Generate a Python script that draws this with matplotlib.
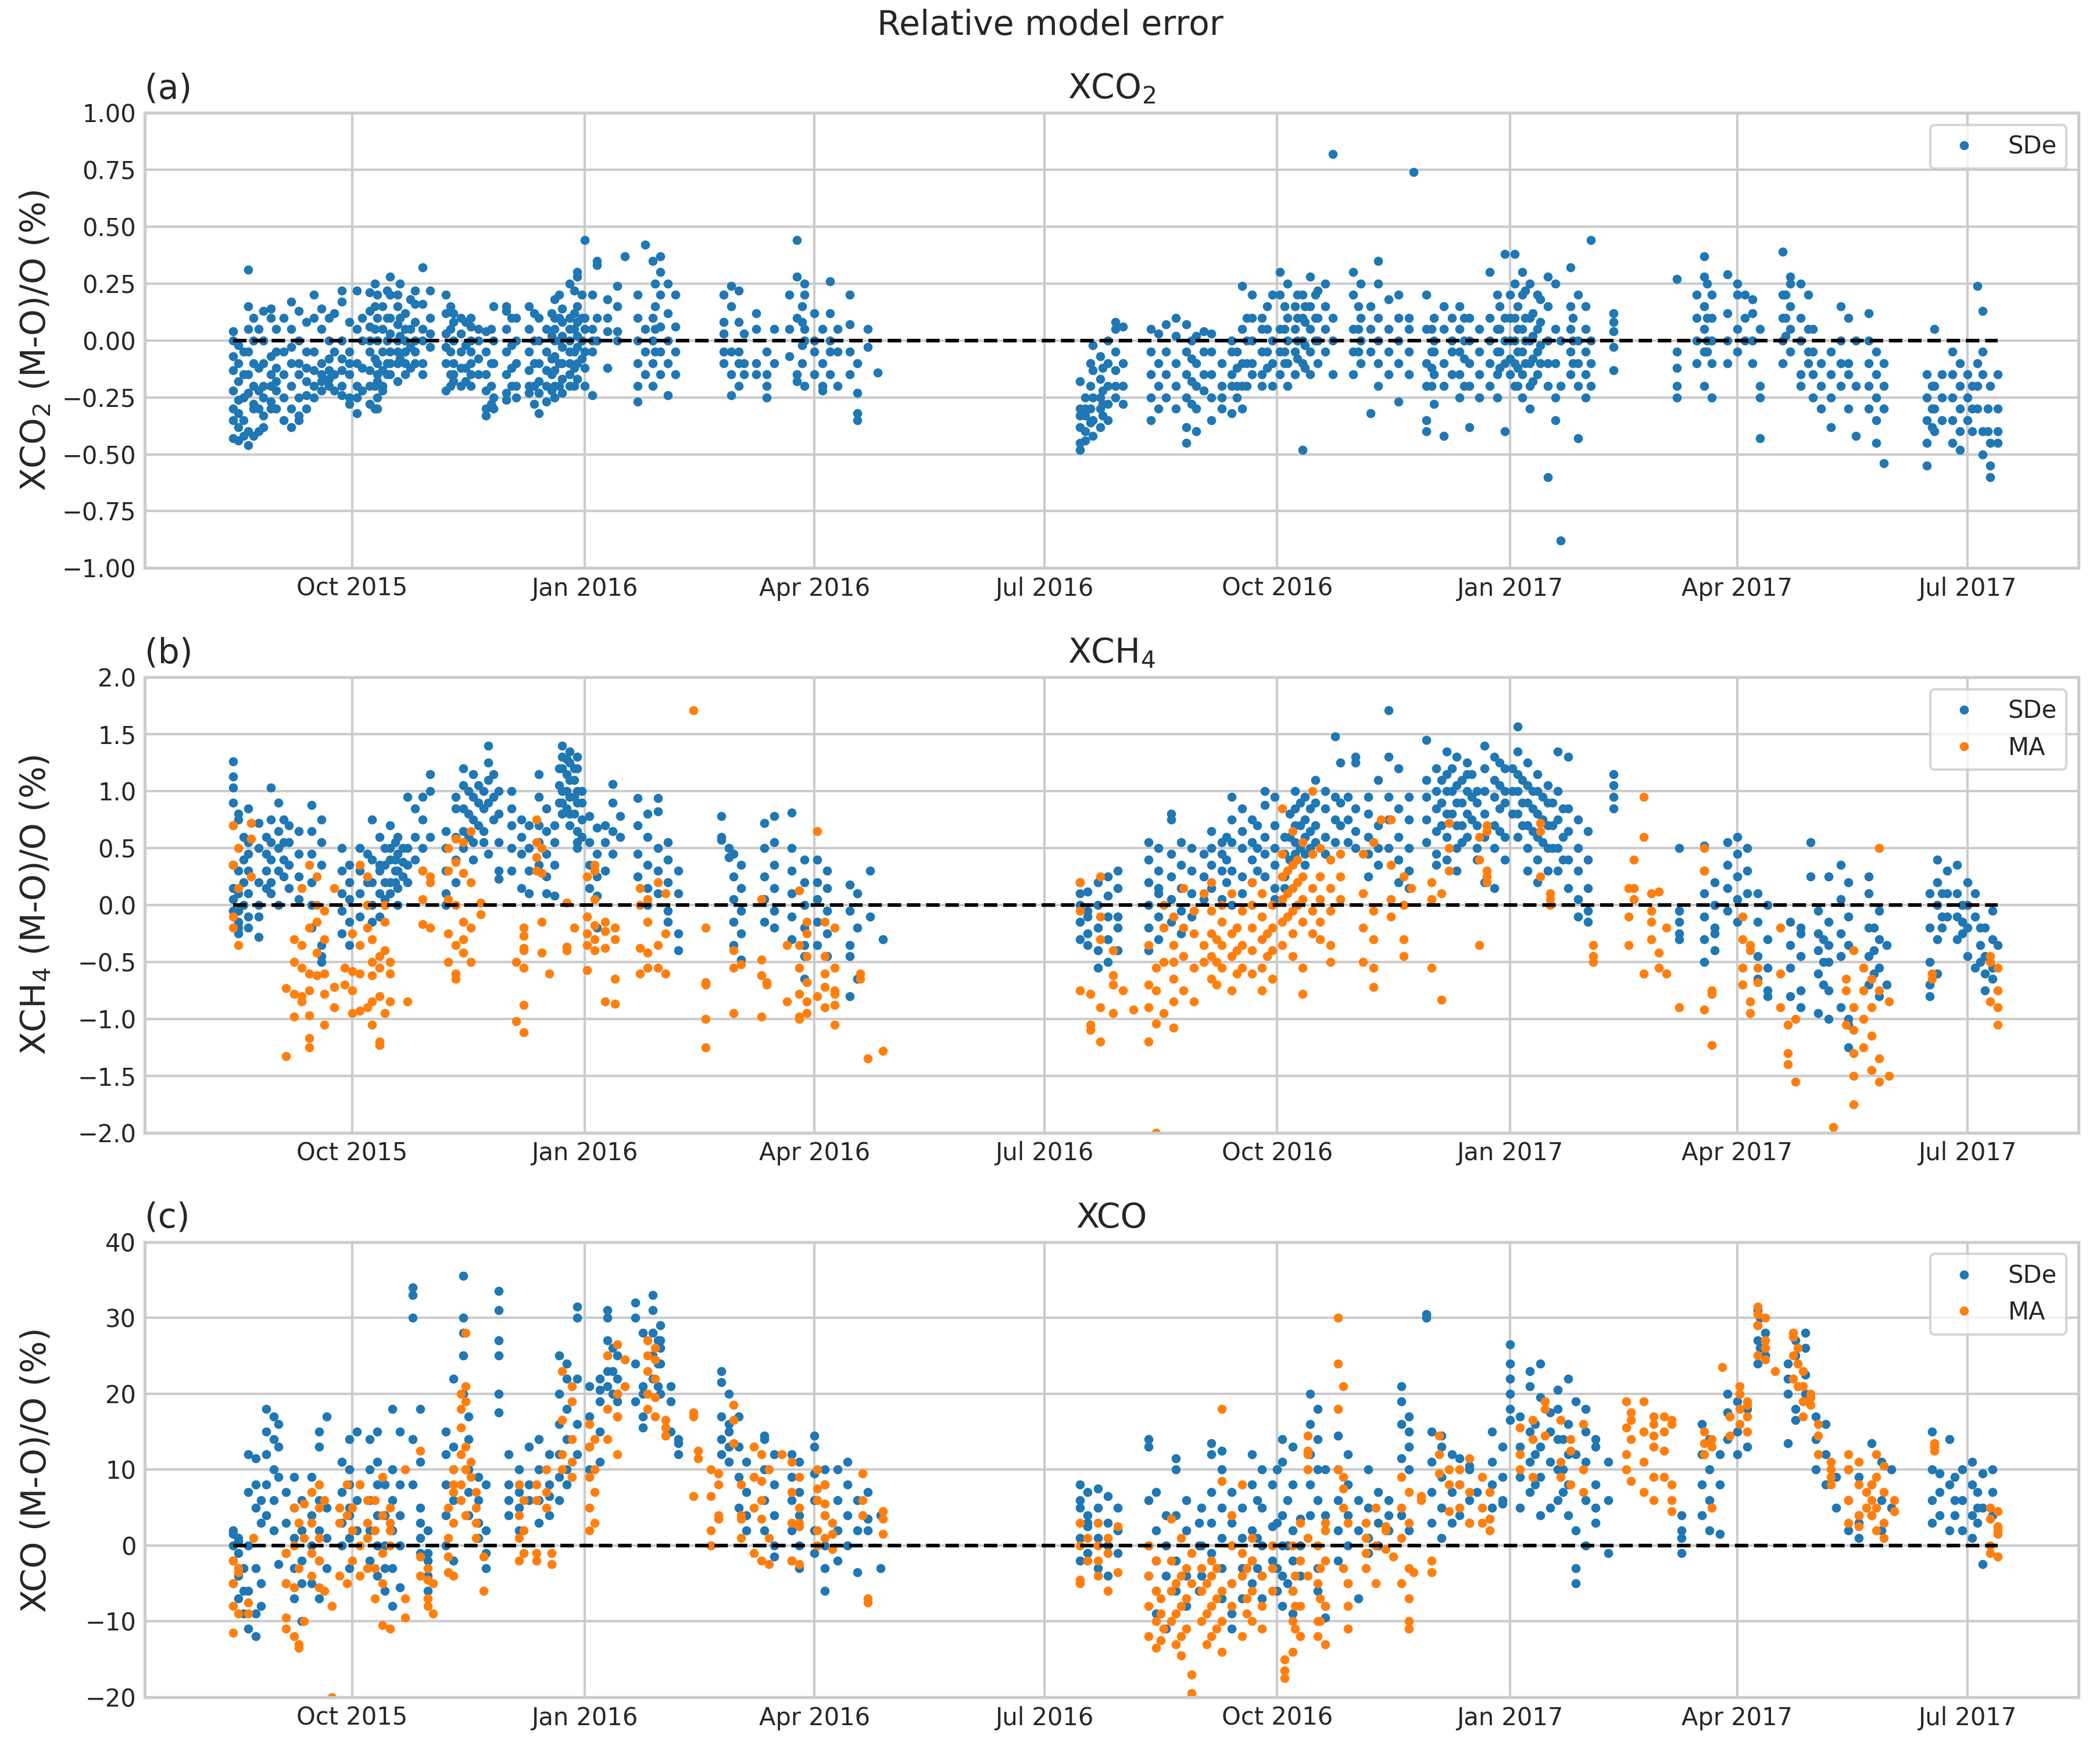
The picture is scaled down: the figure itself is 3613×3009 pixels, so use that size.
import numpy as np
import matplotlib
matplotlib.use("Agg")
import matplotlib.pyplot as plt
import matplotlib.dates as mdates

# estilo "whitegrid" feito à mão
plt.rcParams.update({
    "font.family": "DejaVu Sans",
    "axes.facecolor": "white",
    "axes.edgecolor": "#cccccc",
    "axes.linewidth": 1.25,
    "axes.grid": True,
    "grid.color": "#cccccc",
    "grid.linewidth": 1.0,
    "axes.axisbelow": True,
    "text.color": "#262626",
    "axes.labelcolor": "#262626",
    "xtick.color": "#262626",
    "ytick.color": "#262626",
    "xtick.major.size": 0,
    "ytick.major.size": 0,
    "legend.edgecolor": "#cccccc",
})

# --- valores: (dia, [erros relativos em %]) ---
xco2_sde = [
    ("2015-08-15", [0.04, 0.0, -0.07, -0.13, -0.22, -0.3, -0.35, -0.43]),
    ("2015-08-17", [-0.02, -0.1, -0.18, -0.26, -0.32, -0.44, -0.38]),
    ("2015-08-19", [-0.05, -0.15, -0.25, -0.35, -0.42]),
    ("2015-08-21", [0.31, 0.15, 0.05, -0.05, -0.15, -0.23, -0.4, -0.46]),
    ("2015-08-23", [0.1, 0.0, -0.1, -0.2, -0.3, -0.42, -0.28]),
    ("2015-08-25", [0.05, -0.12, -0.22, -0.3, -0.4]),
    ("2015-08-27", [0.13, 0.0, -0.1, -0.2, -0.25, -0.33, -0.38]),
    ("2015-08-30", [0.14, 0.1, -0.07, -0.15, -0.2, -0.3, -0.27]),
    ("2015-09-01", [0.05, -0.05, -0.12, -0.18, -0.22, -0.3]),
    ("2015-09-04", [0.1, -0.05, -0.15, -0.25, -0.35]),
    ("2015-09-07", [0.17, 0.05, -0.03, -0.1, -0.2, -0.3, -0.38]),
    ("2015-09-10", [0.13, 0.0, -0.1, -0.15, -0.25, -0.35, -0.33]),
    ("2015-09-13", [0.08, -0.05, -0.12, -0.18, -0.24, -0.3]),
    ("2015-09-16", [0.2, 0.1, -0.05, -0.13, -0.2, -0.25]),
    ("2015-09-19", [0.14, 0.05, -0.1, -0.15, -0.18, -0.22]),
    ("2015-09-22", [0.1, 0.0, -0.08, -0.13, -0.17, -0.2]),
    ("2015-09-24", [0.12, -0.05, -0.15, -0.22]),
    ("2015-09-27", [0.22, 0.17, 0.0, -0.08, -0.13, -0.2, -0.24]),
    ("2015-09-30", [0.08, -0.05, -0.1, -0.15, -0.25, -0.28]),
    ("2015-10-03", [0.22, 0.05, -0.1, -0.2, -0.32, -0.25]),
    ("2015-10-05", [0.1, 0.0, -0.12, -0.22]),
    ("2015-10-08", [0.21, 0.13, 0.06, 0.0, -0.05, -0.13, -0.2, -0.28]),
    ("2015-10-10", [0.25, 0.15, 0.05, -0.08, -0.2, -0.3]),
    ("2015-10-11", [0.2, 0.1, 0.0, -0.1, -0.15, -0.18, -0.25, -0.3]),
    ("2015-10-13", [0.15, 0.05, -0.05, -0.13, -0.2, -0.22]),
    ("2015-10-15", [0.22, 0.1, 0.0, -0.1, -0.15]),
    ("2015-10-16", [0.28, 0.2, 0.1, 0.03, -0.05, -0.1, -0.15]),
    ("2015-10-19", [0.2, 0.15, 0.07, 0.0, -0.05, -0.1, -0.18]),
    ("2015-10-20", [0.25, 0.1, 0.02, -0.08]),
    ("2015-10-22", [0.12, 0.05, 0.0, -0.05, -0.1, -0.15]),
    ("2015-10-24", [0.18, 0.05, -0.03, -0.12]),
    ("2015-10-26", [0.22, 0.16, 0.08, 0.0, -0.05, -0.1]),
    ("2015-10-29", [0.32, 0.16, 0.05, 0.0, -0.1, -0.15]),
    ("2015-11-01", [0.22, 0.1, 0.03, -0.03]),
    ("2015-11-07", [0.2, 0.12, 0.03, -0.03, -0.1, -0.22]),
    ("2015-11-09", [0.15, 0.05, -0.05, -0.15, -0.2]),
    ("2015-11-10", [0.12, 0.08, 0.0, -0.1, -0.15, -0.18]),
    ("2015-11-13", [0.1, 0.03, -0.05, -0.12, -0.2]),
    ("2015-11-15", [0.08, -0.02, -0.12, -0.18]),
    ("2015-11-17", [0.1, 0.06, 0.0, -0.05, -0.1, -0.15, -0.2]),
    ("2015-11-20", [0.05, 0.0, -0.08, -0.15]),
    ("2015-11-23", [0.04, -0.05, -0.15, -0.22, -0.3, -0.33]),
    ("2015-11-25", [0.05, -0.1, -0.2, -0.28]),
    ("2015-11-26", [0.15, 0.0, -0.1, -0.25, -0.3]),
    ("2015-12-01", [0.15, 0.13, 0.05, -0.05, -0.15, -0.23, -0.26]),
    ("2015-12-03", [0.1, -0.02, -0.12, -0.2]),
    ("2015-12-05", [0.1, 0.0, -0.1, -0.2, -0.25]),
    ("2015-12-10", [0.15, 0.05, -0.05, -0.13, -0.2, -0.23]),
    ("2015-12-12", [0.12, 0.0, -0.1, -0.2, -0.28]),
    ("2015-12-14", [0.1, 0.0, -0.1, -0.18, -0.23, -0.32]),
    ("2015-12-17", [0.05, -0.05, -0.13, -0.2, -0.27]),
    ("2015-12-19", [0.12, 0.02, -0.08, -0.15, -0.22]),
    ("2015-12-20", [0.18, 0.1, 0.05, 0.0, -0.07, -0.13, -0.2, -0.25]),
    ("2015-12-22", [0.2, 0.1, 0.0, -0.1, -0.2]),
    ("2015-12-23", [0.14, 0.08, 0.02, -0.03, -0.1, -0.17, -0.23]),
    ("2015-12-26", [0.25, 0.1, 0.05, 0.0, -0.05, -0.1, -0.15, -0.2]),
    ("2015-12-28", [0.22, 0.12, 0.05, -0.05, -0.12, -0.2]),
    ("2015-12-29", [0.3, 0.28, 0.15, 0.08, 0.02, -0.03, -0.1, -0.17]),
    ("2015-12-31", [0.2, 0.1, 0.0, -0.08]),
    ("2016-01-01", [0.44, 0.1, 0.05, -0.05, -0.12, -0.2]),
    ("2016-01-04", [0.2, 0.05, 0.0, -0.05, -0.24]),
    ("2016-01-06", [0.33, 0.35, 0.1, 0.0]),
    ("2016-01-10", [0.18, 0.1, 0.04, -0.12]),
    ("2016-01-14", [0.24, 0.15, 0.04, 0.0]),
    ("2016-01-17", [0.37]),
    ("2016-01-22", [0.2, 0.1, 0.0, -0.1, -0.2, -0.27]),
    ("2016-01-25", [0.42, 0.05, -0.05, -0.15]),
    ("2016-01-28", [0.35, 0.1, 0.0, -0.1, -0.2]),
    ("2016-01-29", [0.25, 0.15, 0.05, -0.05]),
    ("2016-01-31", [0.37, 0.3, 0.2, 0.06, -0.05, -0.15]),
    ("2016-02-03", [0.25, 0.12, 0.0, -0.1, -0.24]),
    ("2016-02-06", [0.2, 0.06, -0.05, -0.15]),
    ("2016-02-25", [0.2, 0.08, 0.03, -0.05, -0.1]),
    ("2016-02-28", [0.24, 0.15, -0.05, -0.15, -0.24]),
    ("2016-03-02", [0.22, 0.08, -0.05, -0.1, -0.2]),
    ("2016-03-04", [0.03, -0.1, -0.15]),
    ("2016-03-09", [0.12, 0.05, -0.1, -0.15]),
    ("2016-03-13", [-0.05, -0.15, -0.2, -0.25]),
    ("2016-03-16", [0.05, -0.1]),
    ("2016-03-22", [0.2, 0.05, -0.07]),
    ("2016-03-25", [0.44, 0.28, 0.1, -0.15, -0.18]),
    ("2016-03-27", [0.15, 0.08, -0.02, -0.1]),
    ("2016-03-28", [0.25, 0.2, 0.05, 0.0, -0.2]),
    ("2016-04-01", [0.12, 0.0, -0.05, -0.15]),
    ("2016-04-04", [0.05, -0.1, -0.2, -0.22]),
    ("2016-04-07", [0.26, 0.12, 0.0, -0.05, -0.15]),
    ("2016-04-10", [0.05, -0.05, -0.2]),
    ("2016-04-15", [0.2, 0.07, -0.05, -0.15]),
    ("2016-04-18", [-0.1, -0.23, -0.32, -0.35]),
    ("2016-04-22", [0.05, -0.03]),
    ("2016-04-26", [-0.14]),
    ("2016-07-15", [-0.18, -0.3, -0.38, -0.45, -0.48, -0.33]),
    ("2016-07-17", [-0.25, -0.33, -0.4, -0.44, -0.3]),
    ("2016-07-19", [-0.1, -0.2, -0.3, -0.36]),
    ("2016-07-20", [-0.02, -0.13, -0.25, -0.35, -0.42]),
    ("2016-07-23", [-0.07, -0.17, -0.3, -0.38, -0.25]),
    ("2016-07-24", [-0.12, -0.22, -0.28, -0.33]),
    ("2016-07-26", [0.0, -0.1, -0.2, -0.28, -0.35]),
    ("2016-07-29", [0.08, 0.05, -0.05, -0.13, -0.2, -0.25]),
    ("2016-08-01", [0.06, -0.1, -0.2, -0.28]),
    ("2016-08-12", [0.05, -0.05, -0.15, -0.25, -0.35]),
    ("2016-08-15", [0.03, -0.1, -0.2, -0.3]),
    ("2016-08-18", [0.07, -0.05, -0.15, -0.25]),
    ("2016-08-22", [0.1, 0.02, -0.1, -0.2, -0.3]),
    ("2016-08-26", [0.07, -0.05, -0.15, -0.25, -0.38, -0.45]),
    ("2016-08-28", [0.0, -0.08, -0.18, -0.28]),
    ("2016-08-30", [0.02, -0.1, -0.2, -0.3, -0.4]),
    ("2016-09-02", [0.04, -0.05, -0.15, -0.22]),
    ("2016-09-05", [0.03, -0.05, -0.15, -0.25, -0.35]),
    ("2016-09-09", [-0.1, -0.2, -0.25, -0.3]),
    ("2016-09-13", [0.0, -0.05, -0.15, -0.2, -0.32]),
    ("2016-09-15", [-0.05, -0.12, -0.2, -0.25]),
    ("2016-09-17", [0.24, 0.05, -0.1, -0.2, -0.3]),
    ("2016-09-19", [0.1, 0.0, -0.1, -0.2]),
    ("2016-09-21", [0.2, 0.1, 0.0, -0.1, -0.15]),
    ("2016-09-25", [0.1, 0.05, -0.05, -0.15, -0.2]),
    ("2016-09-27", [0.15, 0.05, -0.05, -0.12]),
    ("2016-09-29", [0.2, 0.0, -0.1, -0.2]),
    ("2016-10-02", [0.3, 0.2, 0.05, -0.05, -0.15]),
    ("2016-10-04", [0.15, 0.05, -0.05, -0.1]),
    ("2016-10-05", [0.25, 0.1, 0.0, -0.1, -0.2]),
    ("2016-10-08", [0.15, 0.05, -0.05, -0.15]),
    ("2016-10-09", [0.2, 0.1, 0.0, -0.08]),
    ("2016-10-11", [0.2, 0.1, 0.0, -0.1, -0.48]),
    ("2016-10-12", [0.15, 0.08, -0.02, -0.12]),
    ("2016-10-14", [0.28, 0.15, 0.05, -0.05, -0.15]),
    ("2016-10-16", [0.2, 0.1, 0.0]),
    ("2016-10-17", [0.22, 0.1, 0.0, -0.1]),
    ("2016-10-20", [0.25, 0.15, 0.05, -0.05]),
    ("2016-10-23", [0.82, 0.1, 0.0, -0.15]),
    ("2016-10-31", [0.3, 0.2, 0.05, -0.05, -0.15]),
    ("2016-11-02", [0.15, 0.05, -0.05]),
    ("2016-11-03", [0.25, 0.1, 0.0, -0.1]),
    ("2016-11-07", [0.15, 0.05, -0.05, -0.32]),
    ("2016-11-10", [0.35, 0.25, 0.1, 0.0, -0.1, -0.2]),
    ("2016-11-14", [0.18, 0.05, -0.05, -0.15]),
    ("2016-11-18", [0.2, 0.1, 0.0, -0.1, -0.27]),
    ("2016-11-22", [0.1, 0.05, -0.05, -0.15]),
    ("2016-11-24", [0.74]),
    ("2016-11-29", [0.2, 0.05, -0.1, -0.2, -0.35, -0.4]),
    ("2016-12-01", [0.05, -0.05, -0.12, -0.2]),
    ("2016-12-02", [0.1, 0.0, -0.05, -0.15, -0.28]),
    ("2016-12-06", [0.15, 0.05, -0.1, -0.2, -0.42]),
    ("2016-12-09", [0.1, 0.0, -0.05, -0.15]),
    ("2016-12-12", [0.15, 0.05, -0.05, -0.15, -0.25]),
    ("2016-12-14", [0.1, 0.0, -0.08, -0.2]),
    ("2016-12-16", [0.1, 0.0, -0.1, -0.2, -0.38]),
    ("2016-12-20", [0.05, -0.05, -0.15, -0.25]),
    ("2016-12-24", [0.3, 0.1, 0.0, -0.1, -0.2]),
    ("2016-12-27", [0.2, 0.05, -0.05, -0.15, -0.25]),
    ("2016-12-28", [0.15, 0.05, -0.05, -0.12]),
    ("2016-12-30", [0.38, 0.1, 0.0, -0.1, -0.4]),
    ("2017-01-01", [0.2, 0.1, 0.0, -0.08, -0.15]),
    ("2017-01-03", [0.38, 0.25, 0.1, 0.0, -0.1, -0.2]),
    ("2017-01-04", [0.15, 0.05, -0.05, -0.12, -0.2]),
    ("2017-01-06", [0.3, 0.2, 0.05, -0.05, -0.15, -0.25]),
    ("2017-01-07", [0.22, 0.1, 0.0, -0.1]),
    ("2017-01-09", [0.25, 0.1, 0.0, -0.1, -0.2, -0.3]),
    ("2017-01-10", [0.12, 0.02, -0.08, -0.18]),
    ("2017-01-12", [0.2, 0.05, -0.05, -0.15]),
    ("2017-01-13", [0.18, 0.08, -0.02, -0.1]),
    ("2017-01-16", [0.28, 0.15, 0.0, -0.1, -0.2, -0.6]),
    ("2017-01-19", [0.25, 0.05, -0.1, -0.25, -0.35]),
    ("2017-01-21", [-0.88, 0.0, -0.2]),
    ("2017-01-25", [0.32, 0.15, 0.05, -0.05, -0.15]),
    ("2017-01-26", [0.1, 0.0, -0.1]),
    ("2017-01-28", [0.2, 0.0, -0.1, -0.2, -0.43]),
    ("2017-01-31", [0.15, 0.05, -0.05, -0.15, -0.25]),
    ("2017-02-02", [0.44, 0.0, -0.1, -0.2]),
    ("2017-02-11", [0.12, 0.08, 0.04, -0.03, -0.13]),
    ("2017-03-08", [0.27, -0.05, -0.12, -0.2, -0.25]),
    ("2017-03-16", [0.2, 0.1, 0.0, -0.1]),
    ("2017-03-19", [0.37, 0.28, 0.15, 0.05, -0.05, -0.2]),
    ("2017-03-20", [0.25, 0.1, 0.0, -0.05]),
    ("2017-03-22", [0.2, 0.1, 0.0, -0.1, -0.25]),
    ("2017-03-28", [0.29, 0.12, 0.0, -0.1]),
    ("2017-04-01", [0.25, 0.2, 0.05, -0.05]),
    ("2017-04-04", [0.2, 0.1, 0.0]),
    ("2017-04-07", [0.18, 0.12, 0.0, -0.1]),
    ("2017-04-10", [0.05, -0.2, -0.25, -0.43]),
    ("2017-04-19", [0.39, 0.2, 0.1, 0.0, -0.1]),
    ("2017-04-20", [0.2, 0.1, 0.02]),
    ("2017-04-22", [0.28, 0.25, 0.15, 0.05, -0.05]),
    ("2017-04-26", [0.25, 0.1, 0.0, -0.15, -0.2]),
    ("2017-04-29", [0.2, 0.05, -0.05, -0.1]),
    ("2017-05-01", [0.05, -0.05, -0.15, -0.25]),
    ("2017-05-04", [-0.1, -0.2, -0.3]),
    ("2017-05-08", [-0.05, -0.15, -0.25, -0.38]),
    ("2017-05-12", [0.15, 0.0, -0.1, -0.2]),
    ("2017-05-15", [0.1, -0.1, -0.15, -0.3]),
    ("2017-05-18", [0.0, -0.2, -0.42]),
    ("2017-05-23", [0.12, 0.0, -0.1, -0.2, -0.3]),
    ("2017-05-26", [-0.05, -0.15, -0.25, -0.35, -0.45]),
    ("2017-05-29", [-0.1, -0.2, -0.3, -0.54]),
    ("2017-06-15", [-0.15, -0.25, -0.35, -0.45, -0.55]),
    ("2017-06-17", [-0.2, -0.3, -0.38]),
    ("2017-06-18", [0.05, -0.2, -0.3, -0.4]),
    ("2017-06-21", [-0.15, -0.25, -0.35]),
    ("2017-06-25", [-0.05, -0.15, -0.25, -0.35, -0.45]),
    ("2017-06-28", [-0.1, -0.2, -0.3, -0.4, -0.48]),
    ("2017-07-01", [-0.15, -0.25, -0.35]),
    ("2017-07-03", [-0.2, -0.3, -0.4]),
    ("2017-07-05", [0.24, -0.1, -0.2, -0.3]),
    ("2017-07-07", [0.13, -0.05, -0.15, -0.4, -0.5]),
    ("2017-07-09", [-0.3, -0.4]),
    ("2017-07-10", [-0.2, -0.45, -0.55, -0.6]),
    ("2017-07-13", [-0.15, -0.3, -0.4, -0.45]),
]

xch4_sde = [
    ("2015-08-15", [1.26, 1.13, 1.03, 0.9, 0.35, 0.15, 0.05, -0.05]),
    ("2015-08-17", [0.8, 0.75, 0.3, 0.1, -0.05, -0.15, -0.2, -0.25]),
    ("2015-08-19", [0.6, 0.4, 0.2, 0.0]),
    ("2015-08-21", [0.85, 0.55, 0.45, 0.3, 0.1, -0.1, -0.2]),
    ("2015-08-25", [0.72, 0.5, 0.2, 0.0, -0.1, -0.28]),
    ("2015-08-28", [0.6, 0.45, 0.3, 0.15]),
    ("2015-08-30", [1.03, 0.75, 0.55, 0.4, 0.2, 0.1]),
    ("2015-09-02", [0.9, 0.65, 0.5, 0.3, 0.0]),
    ("2015-09-04", [0.75, 0.55, 0.4, 0.25]),
    ("2015-09-06", [0.7, 0.55, 0.35, 0.15]),
    ("2015-09-10", [0.65, 0.45, 0.25, 0.05]),
    ("2015-09-15", [0.88, 0.65, 0.45, 0.2, 0.0, -0.2]),
    ("2015-09-19", [0.75, 0.55, 0.35, -0.35, -0.5, -0.45]),
    ("2015-09-27", [0.5, 0.3, 0.1, -0.05, -0.25]),
    ("2015-09-30", [0.35, 0.2, 0.05, -0.15, -0.35]),
    ("2015-10-04", [0.5, 0.3, 0.1, -0.1]),
    ("2015-10-07", [0.45, 0.2, 0.0]),
    ("2015-10-09", [0.75, 0.4, 0.2, 0.0, -0.15]),
    ("2015-10-12", [0.6, 0.35, 0.3, 0.1, -0.1]),
    ("2015-10-14", [0.5, 0.35, 0.2, 0.05]),
    ("2015-10-16", [0.7, 0.5, 0.4, 0.2, 0.1]),
    ("2015-10-18", [0.55, 0.4, 0.3, 0.2]),
    ("2015-10-19", [0.6, 0.45, 0.3, 0.15, 0.0]),
    ("2015-10-21", [0.5, 0.38, 0.25]),
    ("2015-10-23", [0.95, 0.5, 0.35, 0.2]),
    ("2015-10-26", [0.85, 0.6, 0.4]),
    ("2015-10-29", [0.95, 0.75, 0.5, 0.3]),
    ("2015-11-01", [1.15, 1.0, 0.6]),
    ("2015-11-07", [0.65, 0.5, 0.3, 0.1, 0.0]),
    ("2015-11-11", [0.95, 0.85, 0.6, 0.4, 0.2]),
    ("2015-11-14", [1.2, 1.05, 0.85, 0.65, 0.5]),
    ("2015-11-16", [1.0, 0.8, 0.6]),
    ("2015-11-18", [1.15, 0.95, 0.75, 0.55, 0.4]),
    ("2015-11-20", [1.05, 0.9, 0.7]),
    ("2015-11-22", [1.0, 0.85, 0.65, 0.55]),
    ("2015-11-24", [1.4, 1.25, 1.1, 0.9, 0.45]),
    ("2015-11-26", [1.15, 0.95, 0.75]),
    ("2015-11-28", [1.0, 0.8, 0.55, 0.3, 0.23]),
    ("2015-12-03", [1.0, 0.85, 0.7, 0.5, 0.3]),
    ("2015-12-07", [0.75, 0.6, 0.45, 0.15]),
    ("2015-12-10", [0.7, 0.5, 0.3, 0.1]),
    ("2015-12-14", [1.15, 0.95, 0.7, 0.55, 0.35]),
    ("2015-12-17", [0.85, 0.65, 0.45, 0.25, 0.1]),
    ("2015-12-20", [0.7, 0.55, 0.35, 0.08]),
    ("2015-12-22", [1.2, 1.05, 0.9]),
    ("2015-12-23", [1.4, 1.3, 1.2, 1.0, 0.9, 0.8]),
    ("2015-12-25", [1.28, 1.15, 1.0, 0.85]),
    ("2015-12-26", [1.35, 1.25, 1.1, 0.95, 0.8, 0.7]),
    ("2015-12-28", [1.2, 1.1, 0.95, 0.8]),
    ("2015-12-29", [1.3, 1.2, 1.0, 0.9, 0.65, 0.55, 0.5]),
    ("2015-12-31", [1.0, 0.9, 0.75, 0.6]),
    ("2016-01-03", [0.78, 0.55, 0.35, 0.15]),
    ("2016-01-06", [0.68, 0.45, 0.25, 0.08, -0.2]),
    ("2016-01-09", [0.7, 0.55, 0.3]),
    ("2016-01-12", [1.06, 0.9, 0.65, 0.45]),
    ("2016-01-15", [0.78, 0.6]),
    ("2016-01-22", [0.94, 0.7, 0.45, 0.25]),
    ("2016-01-26", [0.8, 0.6, 0.35, 0.15, 0.0]),
    ("2016-01-30", [0.94, 0.82, 0.5, 0.3, 0.1]),
    ("2016-02-03", [0.55, 0.4, 0.2, -0.05, -0.15]),
    ("2016-02-07", [0.3, 0.1, -0.25, -0.4]),
    ("2016-02-24", [0.78, 0.6, 0.57]),
    ("2016-02-27", [0.42, 0.5]),
    ("2016-02-29", [0.45, 0.25, 0.05, -0.15, -0.35]),
    ("2016-03-03", [0.35, 0.15, -0.05, -0.25, -0.48]),
    ("2016-03-12", [0.72, 0.5, 0.25, 0.05, -0.15]),
    ("2016-03-16", [0.78, 0.55, 0.35, 0.15, -0.05, -0.2]),
    ("2016-03-23", [0.81, 0.5, 0.3, 0.1, -0.1, -0.3]),
    ("2016-03-28", [0.4, 0.2, 0.0, -0.2, -0.35, -0.45, -0.65]),
    ("2016-04-02", [0.4, 0.2, 0.05, -0.15, -0.35]),
    ("2016-04-06", [0.3, 0.15, -0.05, -0.25, -0.45]),
    ("2016-04-15", [0.18, -0.05, -0.35, -0.45, -0.8]),
    ("2016-04-18", [0.1, -0.2, -0.65]),
    ("2016-04-23", [0.3, -0.1]),
    ("2016-04-28", [-0.3]),
    ("2016-07-15", [0.1, 0.0, -0.15, -0.3, 0.2]),
    ("2016-07-18", [0.12, -0.05, -0.25, -0.35, -0.1]),
    ("2016-07-22", [0.2, 0.0, -0.2, -0.4, -0.55]),
    ("2016-07-26", [0.25, 0.08, -0.1, -0.3, -0.5]),
    ("2016-07-30", [0.3, 0.15, -0.1, -0.2, -0.4]),
    ("2016-08-11", [0.55, 0.4, 0.2, 0.0, -0.2, -0.4]),
    ("2016-08-15", [0.5, 0.3, 0.15, 0.1, -0.1, -0.3]),
    ("2016-08-20", [0.8, 0.75, 0.45, 0.25, 0.05, -0.15]),
    ("2016-08-24", [0.55, 0.35, 0.15, -0.05, -0.25]),
    ("2016-08-28", [0.5, 0.3, 0.1, -0.1]),
    ("2016-09-02", [0.45, 0.25, 0.05]),
    ("2016-09-05", [0.65, 0.5, 0.35, 0.15]),
    ("2016-09-09", [0.55, 0.45, 0.3, 0.05]),
    ("2016-09-11", [0.6, 0.4, 0.2]),
    ("2016-09-13", [0.95, 0.75, 0.55, 0.3, 0.0]),
    ("2016-09-17", [0.85, 0.65, 0.5, 0.25, 0.1]),
    ("2016-09-21", [0.75, 0.55, 0.4, 0.2]),
    ("2016-09-23", [0.7, 0.5, 0.3]),
    ("2016-09-26", [1.0, 0.88, 0.6, 0.45, 0.25]),
    ("2016-09-30", [0.95, 0.7, 0.5, 0.35, 0.15, 0.05]),
    ("2016-10-04", [0.6, 0.45, 0.25, 0.15]),
    ("2016-10-06", [0.8, 0.6, 0.4]),
    ("2016-10-08", [1.0, 0.85, 0.7, 0.55, 0.45]),
    ("2016-10-10", [0.9, 0.7, 0.5]),
    ("2016-10-12", [0.95, 0.75, 0.6, 0.45, 0.35]),
    ("2016-10-14", [0.85, 0.65, 0.5]),
    ("2016-10-16", [1.1, 0.9, 0.7, 0.55]),
    ("2016-10-20", [1.0, 0.85, 0.6, 0.45]),
    ("2016-10-24", [1.48, 0.95, 0.75, 0.55]),
    ("2016-10-26", [1.25, 0.9, 0.7]),
    ("2016-10-29", [0.95, 0.75, 0.55]),
    ("2016-11-01", [1.3, 1.25, 0.85, 0.65, 0.5]),
    ("2016-11-06", [0.95, 0.8, 0.6, 0.45, 0.25]),
    ("2016-11-10", [1.1, 0.7, 0.5, 0.35]),
    ("2016-11-14", [1.71, 1.3, 0.95, 0.75, 0.5]),
    ("2016-11-18", [1.2, 0.85, 0.6, 0.4, 0.2]),
    ("2016-11-22", [0.95, 0.75, 0.5, 0.3, 0.15]),
    ("2016-11-29", [1.45, 1.1, 0.95, 0.75, 0.55]),
    ("2016-12-03", [1.2, 1.0, 0.85, 0.65, 0.45, 0.35]),
    ("2016-12-05", [1.1, 0.9, 0.7]),
    ("2016-12-07", [1.35, 1.15, 1.0, 0.8, 0.6, 0.4]),
    ("2016-12-09", [1.2, 1.0, 0.8]),
    ("2016-12-11", [1.3, 1.05, 0.9, 0.7, 0.5, 0.3]),
    ("2016-12-13", [1.1, 0.9, 0.7, 0.55]),
    ("2016-12-15", [1.25, 1.15, 1.0, 0.8, 0.6]),
    ("2016-12-17", [1.15, 0.95, 0.75]),
    ("2016-12-19", [1.0, 0.9, 0.7, 0.5, 0.4]),
    ("2016-12-22", [1.4, 1.2, 1.0, 0.8, 0.6, 0.2]),
    ("2016-12-26", [1.3, 1.1, 0.95, 0.7, 0.5, 0.15]),
    ("2016-12-28", [1.25, 1.05, 0.85, 0.65]),
    ("2016-12-30", [1.2, 1.0, 0.9, 0.6, 0.4]),
    ("2017-01-02", [1.2, 1.0, 0.8]),
    ("2017-01-04", [1.57, 1.35, 1.15, 1.0, 0.8, 0.6]),
    ("2017-01-06", [1.1, 0.9, 0.7]),
    ("2017-01-08", [1.25, 1.05, 0.9, 0.7, 0.5, 0.3]),
    ("2017-01-10", [1.0, 0.85, 0.65]),
    ("2017-01-12", [1.15, 1.0, 0.8, 0.6, 0.4, 0.2]),
    ("2017-01-14", [0.95, 0.75, 0.55]),
    ("2017-01-16", [1.05, 0.9, 0.7, 0.5, 0.3]),
    ("2017-01-18", [0.9, 0.7, 0.5]),
    ("2017-01-20", [1.35, 1.0, 0.75, 0.5, 0.3]),
    ("2017-01-22", [0.85, 0.6, 0.4]),
    ("2017-01-24", [1.3, 0.85, 0.65, 0.4, 0.15]),
    ("2017-01-28", [0.75, 0.5, 0.3, 0.05, -0.1]),
    ("2017-02-01", [0.65, 0.4, 0.15, -0.05, -0.15]),
    ("2017-02-11", [1.15, 1.05, 0.95, 0.85]),
    ("2017-03-09", [0.5, -0.05, -0.15, -0.25, -0.3]),
    ("2017-03-19", [0.52, 0.3, 0.1, -0.1, -0.3, -0.5]),
    ("2017-03-23", [0.2, 0.0, -0.2, -0.25, -0.4]),
    ("2017-03-28", [0.55, 0.35, 0.15, -0.05]),
    ("2017-04-01", [0.6, 0.45, 0.25, 0.05, -0.15]),
    ("2017-04-05", [0.5, 0.3, 0.1]),
    ("2017-04-09", [0.1, -0.15, -0.45, -0.65]),
    ("2017-04-13", [0.0, -0.3, -0.55, -0.75, -0.8]),
    ("2017-04-22", [-0.15, -0.35, -0.55, -0.8]),
    ("2017-04-26", [-0.2, -0.25, -0.45, -0.75, -0.9]),
    ("2017-04-30", [0.55, 0.25]),
    ("2017-05-03", [-0.05, -0.25, -0.4, -0.6, -0.95]),
    ("2017-05-05", [-0.3, -0.5, -0.7]),
    ("2017-05-07", [0.25, -0.15, -0.35, -0.5, -0.75, -1.0]),
    ("2017-05-12", [0.35, 0.05, -0.25, -0.45, -0.9]),
    ("2017-05-15", [0.2, -0.1, -0.35, -1.05, -1.25, -1.0]),
    ("2017-05-23", [0.25, 0.1, -0.2, -0.45, -0.7]),
    ("2017-05-25", [-0.2, -0.4, -0.6]),
    ("2017-05-27", [-0.05, -0.3, -0.55, -0.8]),
    ("2017-05-30", [-0.35, -0.7]),
    ("2017-06-16", [0.1, -0.2, -0.5, -0.7, -0.8]),
    ("2017-06-19", [0.4, 0.2, 0.0, -0.3, -0.6]),
    ("2017-06-21", [0.1, -0.1, -0.2]),
    ("2017-06-23", [0.3, 0.1, -0.1]),
    ("2017-06-27", [0.35, 0.1, -0.1, -0.3]),
    ("2017-06-29", [0.0, -0.15, -0.25]),
    ("2017-07-01", [0.2, 0.0, -0.2, -0.45]),
    ("2017-07-04", [0.1, -0.1, -0.55]),
    ("2017-07-06", [-0.2, -0.35, -0.5]),
    ("2017-07-08", [-0.2, -0.45, -0.6, -0.75]),
    ("2017-07-11", [-0.05, -0.3, -0.55, -0.65]),
    ("2017-07-13", [-0.35]),
]

xch4_ma = [
    ("2015-08-15", [0.7, 0.35, -0.1, -0.2]),
    ("2015-08-17", [0.5, 0.15, -0.35]),
    ("2015-08-22", [0.72, 0.58, 0.25]),
    ("2015-09-05", [-0.73, -1.33]),
    ("2015-09-08", [-0.5, -0.78, -0.98, -0.3]),
    ("2015-09-11", [0.15, -0.35, -0.55, -0.8, -0.85]),
    ("2015-09-14", [0.35, -0.2, -0.6, -0.75, -1.17, -1.25, -0.97]),
    ("2015-09-17", [0.25, 0.0, -0.15, -0.42, -0.62]),
    ("2015-09-20", [-0.05, -0.3, -0.6, -0.78, -1.05]),
    ("2015-09-24", [0.15, -0.72, -0.9]),
    ("2015-09-28", [-0.55, -0.7]),
    ("2015-10-01", [-0.95, -0.75, -0.25, -0.58]),
    ("2015-10-04", [-0.93, 0.35, -0.35, -0.6]),
    ("2015-10-07", [-0.9, 0.25, 0.0, -0.2]),
    ("2015-10-09", [-0.5, -0.62, -0.85, -1.05, -0.3]),
    ("2015-10-12", [-0.45, -0.55, -0.8, -1.2, -1.23]),
    ("2015-10-14", [-0.4, -0.15, 0.0, -0.95]),
    ("2015-10-16", [-0.5, -0.85, -0.6]),
    ("2015-10-23", [-0.85]),
    ("2015-10-29", [0.3, 0.05, -0.17]),
    ("2015-11-01", [0.25, 0.2, -0.2]),
    ("2015-11-08", [0.5, 0.3, 0.05, -0.25, -0.5]),
    ("2015-11-11", [0.58, 0.38, 0.0, -0.35, -0.6, -0.65]),
    ("2015-11-14", [0.55, 0.28, -0.15, -0.42, -0.3]),
    ("2015-11-17", [0.65, 0.2, -0.2, -0.5]),
    ("2015-11-21", [0.02, -0.08]),
    ("2015-12-05", [-1.02, -0.5]),
    ("2015-12-08", [-1.12, -0.55, -0.2, -0.27, -0.38, -0.4, -0.88]),
    ("2015-12-13", [0.55, 0.42, 0.3, 0.75]),
    ("2015-12-15", [0.5, 0.28, -0.15, -0.42]),
    ("2015-12-18", [-0.6]),
    ("2015-12-25", [-0.37, -0.4, 0.02]),
    ("2015-12-28", [-0.2]),
    ("2016-01-02", [-0.1, -0.25, -0.35, -0.57, 0.25]),
    ("2016-01-05", [-0.18, -0.3, -0.4, 0.35, 0.3, 0.05]),
    ("2016-01-09", [-0.15, -0.23, -0.38, -0.85]),
    ("2016-01-13", [-0.2, -0.3, -0.87, -0.65]),
    ("2016-01-23", [-0.38, -0.6, 0.15, 0.0]),
    ("2016-01-26", [-0.42, -0.55, 0.05, -0.15]),
    ("2016-01-30", [-0.35, -0.55, 0.2]),
    ("2016-02-02", [-0.6, -0.25, 0.1]),
    ("2016-02-13", [1.71]),
    ("2016-02-18", [-0.2, -0.68, -0.7, -1.0, -1.25]),
    ("2016-02-29", [-0.4, -0.55, -0.95]),
    ("2016-03-03", [-0.52]),
    ("2016-03-11", [0.05, -0.48, -0.62, -0.98]),
    ("2016-03-13", [-0.68, -0.7]),
    ("2016-03-21", [-0.35, -0.85]),
    ("2016-03-26", [0.13, -0.35, -0.55, -0.78, -0.98, -1.0]),
    ("2016-03-29", [-0.15, -0.25, -0.45, -0.68, -0.85, -0.95]),
    ("2016-04-02", [0.65, -0.8]),
    ("2016-04-05", [-0.15, -0.45, -0.6, -0.72, -0.9]),
    ("2016-04-09", [-0.2, -0.55, -0.75, -0.88, -1.05, -0.78]),
    ("2016-04-19", [-0.65, -0.6]),
    ("2016-04-22", [-1.35]),
    ("2016-04-28", [-1.28]),
    ("2016-07-15", [-0.05, -0.75, 0.2]),
    ("2016-07-19", [-0.78, -1.1, -1.05]),
    ("2016-07-23", [0.25, -0.1, -0.3, -0.9, -1.2]),
    ("2016-07-28", [-0.4, -0.95, -0.7, -0.62]),
    ("2016-08-01", [-0.75]),
    ("2016-08-05", [-0.92]),
    ("2016-08-11", [-0.35, -0.7, -0.9, -1.2]),
    ("2016-08-14", [-2.0, -0.55, -0.75, -1.04]),
    ("2016-08-17", [-0.95, -0.5, -0.2, 0.0]),
    ("2016-08-21", [-0.1, -0.35, -0.5, -0.65, -0.85, -1.08]),
    ("2016-08-25", [0.15, -0.2, -0.45, -0.75]),
    ("2016-08-29", [-0.05, -0.25, -0.55, -0.85]),
    ("2016-09-02", [0.1, -0.35, -0.5]),
    ("2016-09-05", [0.2, -0.05, -0.25, -0.45, -0.65]),
    ("2016-09-07", [-0.3, -0.5, -0.7]),
    ("2016-09-09", [0.0, -0.15, -0.35, -0.55]),
    ("2016-09-13", [0.1, -0.25, -0.45, -0.75]),
    ("2016-09-15", [-0.2, -0.4, -0.6]),
    ("2016-09-17", [-0.05, -0.35, -0.55]),
    ("2016-09-21", [0.2, 0.0, -0.2, -0.4, -0.6]),
    ("2016-09-25", [0.1, -0.1, -0.3, -0.55, -0.75]),
    ("2016-09-27", [-0.25, -0.45]),
    ("2016-09-29", [0.0, -0.2, -0.4, -0.65]),
    ("2016-10-03", [0.85, 0.45, 0.25, 0.05, -0.15, -0.35]),
    ("2016-10-05", [0.3, 0.1, -0.1]),
    ("2016-10-07", [0.65, 0.35, 0.15, -0.05, -0.25, -0.45]),
    ("2016-10-09", [0.4, 0.2, 0.0]),
    ("2016-10-11", [0.55, 0.25, 0.05, -0.15, -0.55, -0.78]),
    ("2016-10-15", [1.0, 0.45, 0.15, -0.05, -0.25]),
    ("2016-10-18", [0.5, 0.25, 0.05, -0.15, -0.3]),
    ("2016-10-22", [0.4, 0.15, -0.05, -0.35, -0.5]),
    ("2016-10-26", [0.45, 0.25, 0.05]),
    ("2016-11-04", [0.1, -0.2, -0.5, 0.45]),
    ("2016-11-08", [0.55, -0.05, -0.3, -0.55, -0.72]),
    ("2016-11-11", [0.75]),
    ("2016-11-15", [0.75, 0.35, 0.05, -0.1]),
    ("2016-11-20", [0.25, 0.0, -0.3, -0.45]),
    ("2016-11-23", [0.15]),
    ("2016-12-01", [0.2, 0.05, -0.55]),
    ("2016-12-05", [-0.83, 0.1]),
    ("2016-12-08", [0.3, 0.5, 0.72]),
    ("2016-12-20", [-0.35, 0.6, 0.4]),
    ("2016-12-23", [0.3, 0.25, 0.2, 0.65, 0.7]),
    ("2017-01-13", [0.72, 0.65, 0.25]),
    ("2017-01-17", [0.1, 0.05, 0.0]),
    ("2017-02-03", [-0.35, -0.5, -0.45]),
    ("2017-02-17", [0.15, -0.1, -0.35]),
    ("2017-02-19", [0.4, 0.15, 0.05]),
    ("2017-02-23", [0.95, 0.6, -0.6]),
    ("2017-02-26", [-0.05, -0.15, -0.3, 0.1]),
    ("2017-03-01", [-0.42, -0.55, 0.12]),
    ("2017-03-04", [-0.6, -0.2]),
    ("2017-03-09", [-0.9]),
    ("2017-03-19", [0.5, 0.3, -0.92]),
    ("2017-03-22", [-0.78, -0.75, -1.23]),
    ("2017-04-03", [-0.1, -0.3, -0.55, -0.7]),
    ("2017-04-06", [-0.35, -0.85, -0.95, -0.4]),
    ("2017-04-09", [-0.68, -0.55]),
    ("2017-04-18", [-0.2, -0.6, -0.9]),
    ("2017-04-21", [-1.05, -1.3, -1.4]),
    ("2017-04-24", [-1.55, -1.0]),
    ("2017-05-09", [-1.95]),
    ("2017-05-14", [-1.05, -0.75, -0.65]),
    ("2017-05-17", [-0.9, -1.1, -1.3, -1.5, -1.75, -0.4]),
    ("2017-05-21", [-0.55, -0.75, -1.0, -1.25]),
    ("2017-05-24", [-0.65, -0.9, -1.15, -1.45]),
    ("2017-05-27", [0.5, -1.55, -1.35, -0.75]),
    ("2017-05-31", [-0.85, -1.5]),
    ("2017-06-17", [-0.6, -0.65]),
    ("2017-07-10", [-0.45, -0.5, -0.85]),
    ("2017-07-13", [-0.9, -1.05, -0.75, -0.55]),
]

xco_sde = [
    ("2015-08-15", [2.0, 0.0, -2.0, -5.0, 1.5]),
    ("2015-08-17", [1.0, -1.0, -4.0, -7.0, 0.5]),
    ("2015-08-19", [-3.0, -6.0, -9.0]),
    ("2015-08-21", [12.0, 7.0, 0.0, -6.0, -11.0]),
    ("2015-08-24", [11.5, 8.0, 5.0, -3.0, -9.0, -12.0]),
    ("2015-08-26", [6.0, 3.0, -5.0, -8.0]),
    ("2015-08-28", [18.0, 15.0, 12.0, 8.0, 4.0]),
    ("2015-08-31", [17.0, 14.0, 10.0, 6.0, 2.0]),
    ("2015-09-02", [16.0, 13.0, 9.0, -2.5]),
    ("2015-09-05", [7.0, 3.0, -1.0, -5.0]),
    ("2015-09-08", [9.0, 5.0, 1.0, -3.0, -7.0]),
    ("2015-09-11", [6.0, 2.0, -2.0, -5.0, -10.0]),
    ("2015-09-15", [9.0, 4.0, 0.0, -5.0]),
    ("2015-09-18", [15.0, 13.0, 6.0, 2.0, -2.0, -7.0]),
    ("2015-09-21", [17.0, 5.0, 1.0, -3.0]),
    ("2015-09-27", [7.0, 3.0, 0.0, 11.0]),
    ("2015-09-30", [14.0, 10.0, 5.0, 1.0, -3.0, 8.0, 4.0]),
    ("2015-10-03", [15.0, 6.0, 2.0]),
    ("2015-10-08", [14.0, 10.0, 6.0, 2.0, -2.0]),
    ("2015-10-11", [15.0, 11.0, 8.0, 4.0, 0.0, -4.0]),
    ("2015-10-14", [8.0, 4.0, 0.0, -3.0, -6.0]),
    ("2015-10-17", [18.0, 10.0, 6.0, 2.0, -3.0, -8.0]),
    ("2015-10-20", [15.0, 8.0, 4.0, 0.0, -5.5]),
    ("2015-10-25", [34.0, 33.0, 30.0, 14.0, 8.0]),
    ("2015-10-28", [18.0, 11.0, 5.0, 3.0, 1.0, -1.0]),
    ("2015-10-31", [2.0, -1.0, -2.0, -4.0, -6.0]),
    ("2015-11-07", [15.0, 12.0, 8.0, 4.0, 0.0]),
    ("2015-11-10", [22.0, 13.0, 10.0, 6.0, -2.0]),
    ("2015-11-14", [35.5, 30.0, 28.0, 25.0, 20.0]),
    ("2015-11-16", [17.0, 14.0, 10.0, 7.0, 4.0]),
    ("2015-11-20", [9.0, 6.0, 3.0, 1.0]),
    ("2015-11-23", [8.0, 2.0, -1.0, -3.0]),
    ("2015-11-28", [33.5, 31.0, 27.0, 25.0, 20.0, 17.5]),
    ("2015-12-02", [12.0, 8.0, 6.0, 4.0]),
    ("2015-12-06", [10.0, 7.0, 5.0, 2.0]),
    ("2015-12-10", [13.0, 8.0, 6.0]),
    ("2015-12-14", [14.0, 10.0, 6.0, 3.0]),
    ("2015-12-18", [12.0, 8.0, 6.5, 4.0]),
    ("2015-12-22", [25.0, 20.0, 16.0, 12.0, 9.0, 6.0]),
    ("2015-12-25", [24.0, 22.0, 18.0, 14.0, 10.0, 8.0]),
    ("2015-12-29", [31.5, 30.0, 22.0, 16.0, 12.0]),
    ("2016-01-03", [21.0, 17.0, 13.0, 10.0]),
    ("2016-01-07", [22.0, 20.5, 19.0, 15.0, 11.0]),
    ("2016-01-10", [31.0, 30.0, 27.0, 23.0, 21.0]),
    ("2016-01-12", [26.0, 23.0, 20.0]),
    ("2016-01-14", [25.0, 22.0, 20.0, 19.0, 17.0]),
    ("2016-01-21", [32.0, 30.0, 24.0, 19.0]),
    ("2016-01-24", [28.0, 21.0, 20.0, 17.0, 15.5]),
    ("2016-01-28", [33.0, 31.0, 28.0, 25.0, 22.0]),
    ("2016-01-30", [27.0, 24.0, 21.0]),
    ("2016-01-31", [29.0, 27.0, 26.0, 24.0, 20.0]),
    ("2016-02-04", [21.0, 19.0, 15.0]),
    ("2016-02-07", [14.0, 13.5, 12.0]),
    ("2016-02-24", [23.0, 21.5, 17.0, 14.0, 12.0]),
    ("2016-02-27", [20.0, 16.0, 15.0, 13.0, 11.0]),
    ("2016-03-02", [17.0, 13.0, 9.0, 5.0]),
    ("2016-03-05", [11.0, 7.0, 4.0, 2.0]),
    ("2016-03-12", [14.5, 14.0, 10.0, 6.0, 2.0]),
    ("2016-03-16", [12.0, 8.0, 4.0, 0.0, -1.5]),
    ("2016-03-23", [12.0, 9.0, 6.0, 2.0, -2.0]),
    ("2016-03-26", [11.0, 7.0, 4.0, 0.0, -3.0]),
    ("2016-04-01", [14.5, 13.0, 9.5, 6.0, 2.0, -1.0]),
    ("2016-04-05", [10.0, 8.0, 4.0, 0.0, -3.0, -6.0]),
    ("2016-04-10", [10.0, 6.0, 2.0, -2.0]),
    ("2016-04-14", [11.0, 8.0, 4.0, 0.0]),
    ("2016-04-18", [6.0, 2.0, -3.5]),
    ("2016-04-22", [7.0, 3.5, 2.0]),
    ("2016-04-27", [4.0, -3.0]),
    ("2016-07-15", [8.0, 5.0, 1.0, -2.0, 6.0]),
    ("2016-07-18", [7.0, 3.0, -1.0, 4.0, 2.5]),
    ("2016-07-22", [7.5, 5.0, 1.0, -3.0]),
    ("2016-07-26", [6.5, 3.0, 0.0, -4.0]),
    ("2016-07-30", [5.0, 2.0, -1.0]),
    ("2016-08-11", [14.0, 13.0, 6.0, 0.0, -4.0]),
    ("2016-08-14", [7.0, 2.0, -2.0, -6.0, -9.0]),
    ("2016-08-18", [4.0, 0.0, -4.0, -11.0]),
    ("2016-08-22", [11.5, 10.0, 4.0, -2.0, -6.0]),
    ("2016-08-26", [6.0, 2.0, -4.0, -8.0]),
    ("2016-08-31", [3.0, 0.0, -6.0]),
    ("2016-09-01", [5.0, 0.0, -4.0]),
    ("2016-09-05", [13.5, 12.0, 7.0, 3.0, -1.0]),
    ("2016-09-09", [12.5, 10.0, 5.0, 1.0, -3.0, -7.0]),
    ("2016-09-13", [7.0, 3.0, -5.0, -9.0, -11.0]),
    ("2016-09-17", [5.0, 1.0, -3.0, -7.0]),
    ("2016-09-21", [12.0, 8.0, 2.0, -2.0, -5.0]),
    ("2016-09-23", [6.0, 1.0, -3.0]),
    ("2016-09-25", [10.0, 5.0, 0.0, -4.0, -7.0]),
    ("2016-09-29", [8.0, 2.5, -2.0]),
    ("2016-10-01", [10.0, 3.0, -3.0, -6.0]),
    ("2016-10-03", [14.0, 11.0, 4.0, 0.0, -4.0, -8.0]),
    ("2016-10-05", [6.0, 0.0, -5.0]),
    ("2016-10-07", [13.0, 8.0, 2.0, -2.0, -6.0, -9.0]),
    ("2016-10-10", [3.5, 0.0, -4.0]),
    ("2016-10-14", [20.0, 16.0, 12.0, 8.0, 4.0]),
    ("2016-10-17", [18.0, 14.0, 10.0, 6.0, -3.0, -6.0]),
    ("2016-10-20", [10.0, 4.0, -8.0, -9.5]),
    ("2016-10-25", [14.5, 10.0, 6.0, 2.0, -2.0]),
    ("2016-10-29", [12.0, 8.0, 4.0, 0.0, -5.0]),
    ("2016-11-02", [6.0, 2.0, -7.0]),
    ("2016-11-06", [10.0, 5.0, 1.0, -1.0]),
    ("2016-11-10", [7.0, 3.0, 0.0]),
    ("2016-11-14", [6.0, 4.0, 2.0]),
    ("2016-11-19", [21.0, 19.0, 16.0, 11.5, 4.0]),
    ("2016-11-22", [17.0, 15.0, 13.0, 10.0, 2.0]),
    ("2016-11-29", [30.5, 30.0]),
    ("2016-12-01", [15.0, 11.0, 7.0, 3.0]),
    ("2016-12-05", [14.5, 13.0, 9.0, 5.0, 1.0]),
    ("2016-12-09", [12.0, 7.0, 3.0]),
    ("2016-12-12", [11.5, 8.0, 4.0]),
    ("2016-12-16", [10.5, 10.0, 6.0, 3.0]),
    ("2016-12-19", [7.0]),
    ("2016-12-25", [15.0, 11.0, 8.0, 5.0]),
    ("2016-12-29", [13.0, 9.0, 6.0, 5.5]),
    ("2017-01-01", [26.5, 24.0, 22.0, 20.0, 18.0, 16.5]),
    ("2017-01-05", [17.0, 13.0, 9.0, 5.0]),
    ("2017-01-09", [23.0, 21.0, 15.0, 11.0, 7.0]),
    ("2017-01-11", [16.0, 12.0, 8.0]),
    ("2017-01-13", [24.0, 19.5, 13.0, 9.0, 4.0]),
    ("2017-01-17", [17.5, 15.0, 11.0, 5.0]),
    ("2017-01-20", [20.5, 18.0, 14.0, 10.0, 6.0]),
    ("2017-01-22", [14.0, 10.0, 7.0]),
    ("2017-01-24", [22.0, 16.0, 12.0, 8.0, 4.0]),
    ("2017-01-27", [19.0, 12.0, 2.0, -3.0, -5.0]),
    ("2017-01-31", [18.0, 15.0, 11.0, 6.0, 0.0]),
    ("2017-02-04", [14.0, 13.0, 8.0, 5.0, 3.0]),
    ("2017-02-09", [11.0, 6.0, -1.0]),
    ("2017-03-10", [4.0, 2.0, 1.0, -1.0]),
    ("2017-03-18", [16.0, 12.0, 8.0, 4.0]),
    ("2017-03-21", [14.0, 10.0, 6.0, 2.0]),
    ("2017-03-25", [12.0, 8.0, 1.5]),
    ("2017-03-28", [20.0, 17.5, 14.0]),
    ("2017-04-01", [19.0, 15.0, 12.0]),
    ("2017-04-05", [18.0, 13.0]),
    ("2017-04-09", [31.0, 29.0, 27.0, 24.0]),
    ("2017-04-10", [30.0, 26.0]),
    ("2017-04-12", [28.0, 25.0]),
    ("2017-04-21", [24.0, 22.0, 20.0, 13.5]),
    ("2017-04-24", [27.0, 25.0, 18.0, 16.5]),
    ("2017-04-28", [28.0, 26.0, 22.5, 20.0]),
    ("2017-05-02", [17.0, 14.0, 10.0]),
    ("2017-05-06", [16.0, 12.0, 8.0]),
    ("2017-05-10", [9.0, 5.0]),
    ("2017-05-15", [10.0, 6.0, 2.0]),
    ("2017-05-19", [9.0, 4.0, 1.0, 3.0]),
    ("2017-05-24", [13.5, 8.0, 4.0]),
    ("2017-05-28", [11.0, 6.0, 2.0]),
    ("2017-06-01", [10.0, 5.0]),
    ("2017-06-17", [15.0, 10.0, 6.0, 3.0]),
    ("2017-06-20", [9.5, 7.0, 4.0]),
    ("2017-06-24", [14.0, 8.0, 2.0]),
    ("2017-06-26", [9.0, 6.0, 4.0]),
    ("2017-06-29", [10.0, 6.0, 2.0]),
    ("2017-07-03", [11.0, 8.0, 4.0, 1.0]),
    ("2017-07-05", [7.0, 5.0, 3.0]),
    ("2017-07-07", [9.5, 5.0, -2.5]),
    ("2017-07-11", [10.0, 7.0, 4.0]),
]

xco_ma = [
    ("2015-08-15", [-8.0, -11.5, -2.0, -5.0]),
    ("2015-08-17", [-9.0, -3.0, -3.5]),
    ("2015-08-21", [-7.5, -9.0]),
    ("2015-08-23", [1.0]),
    ("2015-09-05", [-1.0, -5.0, -9.5, -11.0]),
    ("2015-09-08", [5.0, 0.0, -5.5, -12.0]),
    ("2015-09-10", [3.0, -3.0, -13.0, -13.5]),
    ("2015-09-12", [1.0, 5.5, -10.0]),
    ("2015-09-15", [7.0, 3.0, -1.0, -4.0]),
    ("2015-09-18", [5.0, 1.0, -2.0, -5.5, 8.0]),
    ("2015-09-20", [6.0, -6.0]),
    ("2015-09-23", [-20.0, -8.0]),
    ("2015-09-26", [5.0, 3.0, -4.0]),
    ("2015-09-29", [4.0, 8.0, -5.0]),
    ("2015-10-01", [2.0, -2.0, 5.0]),
    ("2015-10-04", [0.0, -4.0, 8.0]),
    ("2015-10-07", [1.0, 6.0, 3.0, -3.0]),
    ("2015-10-10", [6.0, 2.0, -3.0, -7.0]),
    ("2015-10-13", [4.0, -1.0, -5.0, -10.5, 9.0]),
    ("2015-10-16", [0.0, -11.0, 5.0, 3.0, 2.0]),
    ("2015-10-22", [-7.0, -9.5, 10.0]),
    ("2015-10-28", [12.5, -1.5, -4.0]),
    ("2015-10-31", [-3.0, -4.5, -7.0, -8.0]),
    ("2015-11-02", [-5.0, -9.0]),
    ("2015-11-08", [-3.5, -1.5, 1.0, 5.0]),
    ("2015-11-10", [3.0, 7.0, 8.0, 10.0, -4.0]),
    ("2015-11-13", [20.0, 18.0, 15.5, 12.0, 8.0, 6.0]),
    ("2015-11-15", [28.0, 21.0, 19.0, 13.0, 10.0, 4.0]),
    ("2015-11-17", [11.0, 9.0]),
    ("2015-11-19", [7.0, 5.0, 3.0, 1.0]),
    ("2015-11-22", [-1.5, -6.0]),
    ("2015-12-06", [8.0, 4.0, 1.0, -2.0]),
    ("2015-12-08", [6.0, 2.0, -1.0]),
    ("2015-12-13", [8.0, 6.0, -1.0, -2.0]),
    ("2015-12-17", [7.0, 5.0, 10.0]),
    ("2015-12-19", [-2.5, -1.0]),
    ("2015-12-23", [23.0, 16.5, 12.0, 10.0]),
    ("2015-12-27", [21.0, 19.0, 14.0, 11.0, 9.0]),
    ("2016-01-03", [9.0, 5.0, 2.0, 16.0, 13.0]),
    ("2016-01-05", [7.0, 3.0, 14.0, 10.0]),
    ("2016-01-10", [18.0, 14.0, 25.0]),
    ("2016-01-14", [17.0, 12.0, 26.5, 20.0]),
    ("2016-01-17", [24.5, 21.0]),
    ("2016-01-26", [27.0, 25.0, 23.0, 20.0, 18.0]),
    ("2016-01-29", [26.0, 24.5, 22.0, 19.5, 17.0]),
    ("2016-02-02", [16.5, 15.5, 14.5]),
    ("2016-02-13", [17.0, 17.5, 6.5]),
    ("2016-02-15", [11.5, 12.5]),
    ("2016-02-20", [10.0, 6.5, 2.0, 0.0]),
    ("2016-02-23", [8.0, 3.5, 9.5, 4.0]),
    ("2016-02-29", [18.5, 16.5, 13.5]),
    ("2016-03-03", [8.0, 4.0, 3.5, 1.0]),
    ("2016-03-08", [13.0, 9.0, 5.0, -1.0]),
    ("2016-03-11", [12.0, 8.5, 3.5, -2.0, 6.0]),
    ("2016-03-14", [10.0, 1.0, -2.5]),
    ("2016-03-19", [12.0]),
    ("2016-03-23", [11.0, 7.0, 3.0, -2.0]),
    ("2016-03-26", [9.0, 5.0, 2.5, -2.5, 3.0]),
    ("2016-04-02", [10.0, 6.0, 2.0, 0.0, 7.5]),
    ("2016-04-05", [8.0, 4.0, 1.0, 5.5]),
    ("2016-04-08", [3.0, 1.5, -0.5]),
    ("2016-04-20", [9.5, 6.0, 4.0]),
    ("2016-04-22", [-7.0, -7.5]),
    ("2016-04-28", [3.5, 4.5, 1.5]),
    ("2016-07-15", [-5.0, -4.5, 0.0, 3.0]),
    ("2016-07-18", [1.0, -2.0]),
    ("2016-07-22", [0.0, -2.0, -4.0, 3.0]),
    ("2016-07-26", [-6.0, 1.0, -1.0]),
    ("2016-07-30", [-3.5, 2.5]),
    ("2016-08-11", [-4.0, -8.0, -12.0, 0.0]),
    ("2016-08-14", [-6.0, -10.0, -13.5, -2.0]),
    ("2016-08-16", [-7.0, -9.0, -12.5]),
    ("2016-08-17", [-11.0]),
    ("2016-08-20", [-2.0, -6.0, -10.0, 3.5]),
    ("2016-08-22", [-5.0, -9.0, -13.0]),
    ("2016-08-24", [-4.0, -8.0, -12.0, -14.5, 1.0]),
    ("2016-08-26", [-3.0, -7.0, -11.0]),
    ("2016-08-28", [-17.0, -19.5, -1.0, -5.0]),
    ("2016-09-01", [-3.0, -6.0, -10.0]),
    ("2016-09-03", [-5.0, -9.0, -13.0]),
    ("2016-09-05", [-4.0, -8.0, -12.0, -2.0]),
    ("2016-09-07", [-3.0, -7.0, -11.0]),
    ("2016-09-09", [18.0, 8.5, -6.0, -10.0, -14.0]),
    ("2016-09-13", [0.0, 4.0, -5.0, -8.0]),
    ("2016-09-17", [8.0, -1.0, -4.0, -12.0]),
    ("2016-09-19", [-3.0, -7.0, -9.0]),
    ("2016-09-21", [-2.0, -6.0, -10.0, 1.0]),
    ("2016-09-25", [-4.0, -8.0, -11.0]),
    ("2016-09-29", [-3.0, 0.0, -6.0]),
    ("2016-10-04", [-15.0, -16.5, -17.5]),
    ("2016-10-07", [-6.0, -10.0, -14.0, 0.0]),
    ("2016-10-08", [-4.0, -8.0, -11.0]),
    ("2016-10-10", [-8.0, -12.0, -2.0, 3.0]),
    ("2016-10-13", [14.5, 12.0, 10.0, 12.5, -4.0, 1.0]),
    ("2016-10-17", [-5.0, -10.0, -12.0, 0.0]),
    ("2016-10-18", [-3.0, -7.0, -10.0]),
    ("2016-10-20", [-8.0, -13.0, -2.0, 2.0, 3.0]),
    ("2016-10-25", [30.0, 24.0, 18.0, 10.0]),
    ("2016-10-27", [21.0, 9.0, 7.5, 5.0, -3.0]),
    ("2016-10-29", [-5.0, -8.0, -11.0, 3.0]),
    ("2016-11-05", [3.0, 1.0, -1.0, -3.0]),
    ("2016-11-09", [5.0, 0.0, -5.0]),
    ("2016-11-13", [2.0, 2.5, -0.5]),
    ("2016-11-16", [-1.5]),
    ("2016-11-19", [9.0, 5.0, 1.0, -5.0]),
    ("2016-11-22", [7.0, 3.0, -3.0, -7.0, -10.0, -11.0]),
    ("2016-11-24", [-3.5]),
    ("2016-11-27", [6.5, 6.0]),
    ("2016-12-01", [-2.0, -3.5]),
    ("2016-12-04", [14.5, 9.5, 12.0]),
    ("2016-12-08", [4.5, 8.0, 10.0]),
    ("2016-12-12", [10.0, 8.0, 5.0]),
    ("2016-12-16", [7.0, 3.0, 11.5]),
    ("2016-12-21", [9.0, 5.0, 3.0]),
    ("2016-12-24", [7.0, 2.0, 3.5]),
    ("2017-01-05", [15.5, 12.0, 10.0]),
    ("2017-01-10", [14.0, 9.0, 16.5]),
    ("2017-01-15", [18.0, 19.0, 14.5]),
    ("2017-01-21", [16.5, 9.0, 11.0]),
    ("2017-01-25", [8.0, 14.0, 12.5]),
    ("2017-01-30", [10.0, 16.0, 7.0]),
    ("2017-02-16", [19.0, 15.5, 12.0, 10.0]),
    ("2017-02-18", [17.5, 14.0, 8.5, 16.5]),
    ("2017-02-23", [19.0, 15.0, 11.0, 7.0]),
    ("2017-02-27", [17.0, 13.0, 9.0, 6.0, 16.0, 14.5]),
    ("2017-03-03", [17.0, 15.0, 12.5, 9.0]),
    ("2017-03-06", [16.5, 8.0, 6.0, 4.5, 16.0]),
    ("2017-03-19", [15.0, 13.5, 12.0]),
    ("2017-03-22", [14.0, 5.0, 13.0]),
    ("2017-03-26", [23.5]),
    ("2017-03-29", [14.5, 17.0]),
    ("2017-04-02", [20.0, 18.0, 16.0, 21.0]),
    ("2017-04-05", [19.0, 17.0, 15.0, 18.5]),
    ("2017-04-09", [31.5, 30.5, 29.0, 25.0]),
    ("2017-04-12", [27.0, 26.0, 24.5, 30.0]),
    ("2017-04-16", [23.0]),
    ("2017-04-23", [28.0, 27.5, 25.0, 22.0]),
    ("2017-04-25", [26.0, 24.0, 21.0]),
    ("2017-04-27", [23.0, 21.0, 19.0, 17.0]),
    ("2017-04-30", [20.0, 18.5, 19.5]),
    ("2017-05-03", [16.0, 14.5, 12.0]),
    ("2017-05-08", [10.0, 9.0, 8.0, 11.0]),
    ("2017-05-15", [10.0, 6.0, 3.0, 12.0]),
    ("2017-05-19", [8.0, 4.0, 2.5, 11.0]),
    ("2017-05-22", [5.0, 7.0]),
    ("2017-05-24", [6.0, 4.0, 8.0]),
    ("2017-05-26", [9.0, 5.0, 2.0, 12.0]),
    ("2017-05-29", [7.0, 3.0, 1.0, 10.5]),
    ("2017-06-02", [4.5, 6.0]),
    ("2017-06-18", [13.5, 12.5, 13.0]),
    ("2017-07-10", [5.0, 3.5, 0.0, -1.0]),
    ("2017-07-13", [1.5, -1.5, 2.0, 4.5, 2.5]),
]


def desempacotar(obs):
    # converte (dia, valores) em vetores x (número de dias do matplotlib) e y
    xs, ys = [], []
    for dia, v in obs:
        n = mdates.datestr2num(dia)
        xs.extend([n] * len(v))
        ys.extend(v)
    return np.array(xs), np.array(ys)


paineis = [
    ("(a)", "XCO$_2$", "XCO$_2$ (M-O)/O (%)", [("SDe", xco2_sde)],
     (-1, 1), np.arange(-1, 1.01, 0.25)),
    ("(b)", "XCH$_4$", "XCH$_4$ (M-O)/O (%)", [("SDe", xch4_sde), ("MA", xch4_ma)],
     (-2, 2), np.arange(-2, 2.01, 0.5)),
    ("(c)", "XCO", "XCO (M-O)/O (%)", [("SDe", xco_sde), ("MA", xco_ma)],
     (-20, 40), np.arange(-20, 41, 10)),
]
cores = {"SDe": "#1f77b4", "MA": "#ff7f0e"}
x_ini = mdates.datestr2num("2015-07-11")
x_fim = mdates.datestr2num("2017-08-14")

fig, axs = plt.subplots(3, 1, figsize=(3613 / 300, 3009 / 300))
fig.subplots_adjust(left=0.0689, right=0.9898, top=0.9355, bottom=0.0296, hspace=0.24)
fig.suptitle("Relative model error", fontsize=14, y=0.995)

for ax, (letra, titulo, ylab, series, ylim, yticks) in zip(axs, paineis):
    todos = []
    for nome, obs in series:
        x, y = desempacotar(obs)
        todos.append(x)
        ax.plot(x, y, ".", ms=5.5, color=cores[nome], label=nome, zorder=2)
    todos = np.concatenate(todos)
    ax.hlines(0, todos.min(), todos.max(), colors="k", linestyles="--", lw=1.5, zorder=3)
    ax.set_ylim(*ylim)
    ax.set_yticks(yticks)
    ax.set_xlim(x_ini, x_fim)
    ax.xaxis.set_major_locator(mdates.MonthLocator(bymonth=[1, 4, 7, 10]))
    ax.xaxis.set_major_formatter(mdates.DateFormatter("%b %Y"))
    ax.tick_params(labelsize=10)
    ax.set_title(letra, loc="left", fontsize=14)
    ax.set_title(titulo, fontsize=14)
    ax.set_ylabel(ylab, fontsize=14)
    ax.legend(loc="upper right", fontsize=10)

fig.align_ylabels(axs)
fig.savefig("out.png", dpi=300)
